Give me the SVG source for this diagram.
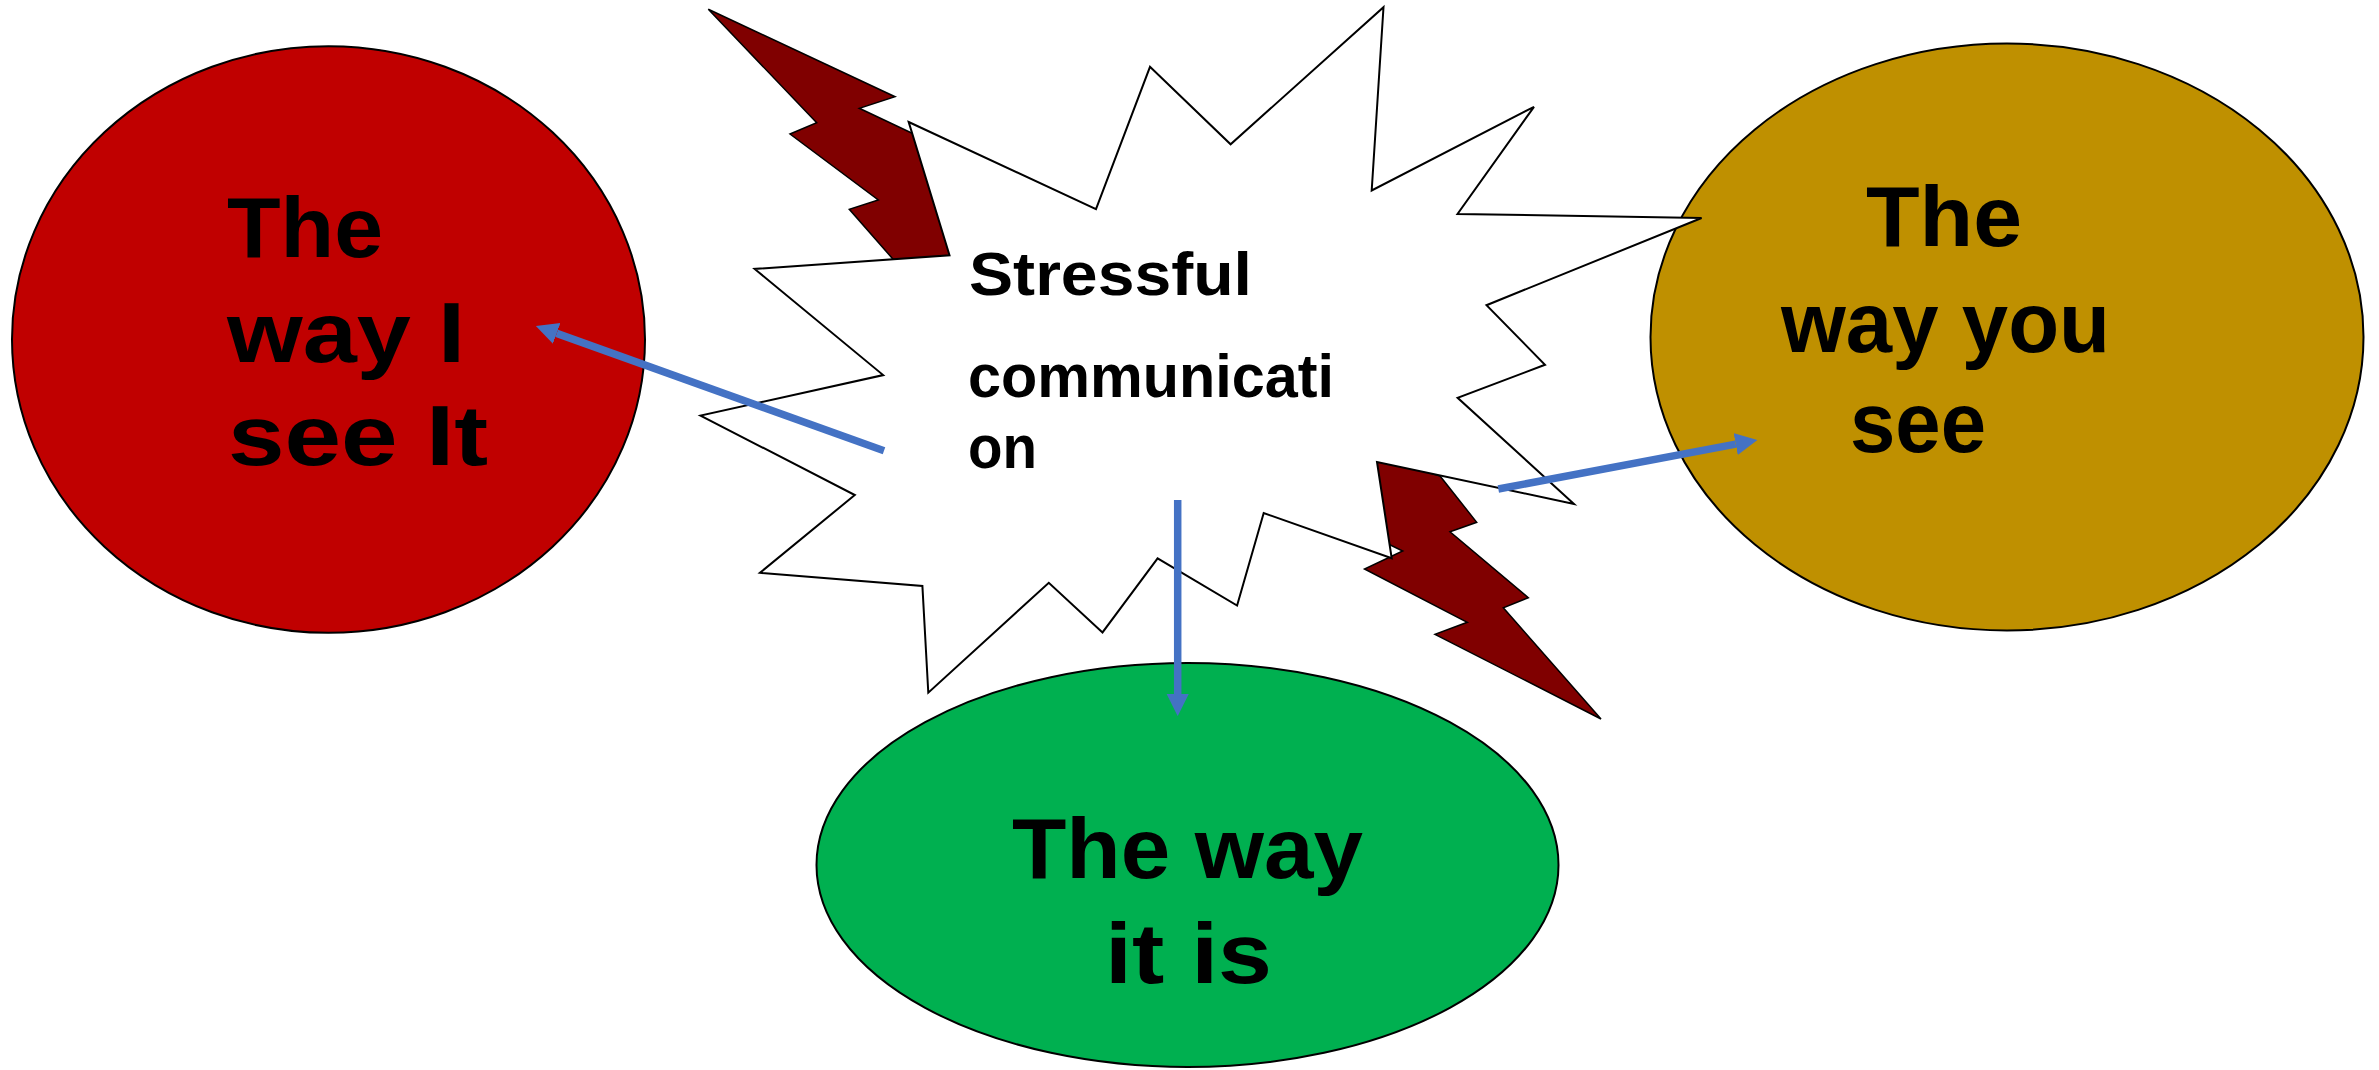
<svg xmlns="http://www.w3.org/2000/svg" width="2379" height="1070" viewBox="0 0 2379 1070">
<style>
.ell{stroke:#000;stroke-width:2}
.bolt{fill:#800000;stroke:#000;stroke-width:1.5;stroke-linejoin:miter}
.burst{fill:#fff;stroke:#000;stroke-width:2;stroke-linejoin:miter}
.t{font-family:"Liberation Sans",Arial,sans-serif;font-weight:bold;fill:#000}
.big{font-size:85px}
.mid{font-size:62px}
.arr{stroke:#4472C4;stroke-width:7.5;fill:none;stroke-linecap:butt}
</style>
<defs>
<marker id="ah" viewBox="0 0 10 10" refX="0" refY="5" markerWidth="2.95" markerHeight="3.1" markerUnits="strokeWidth" orient="auto">
<path d="M0,0 L10,5 L0,10 z" fill="#4472C4"/>
</marker>
</defs>
<rect width="2379" height="1070" fill="#fff"/>
<g id="node-way-i-see-it">
<ellipse class="ell" cx="328.5" cy="339.5" rx="316.5" ry="293.3" fill="#C00000"/>
<text class="t big" x="227" y="257" textLength="156" lengthAdjust="spacingAndGlyphs">The</text>
<text class="t big" x="227" y="362" textLength="238" lengthAdjust="spacingAndGlyphs">way I</text>
<text class="t big" x="228" y="465" textLength="260" lengthAdjust="spacingAndGlyphs">see It</text>
</g>
<g id="node-way-you-see">
<ellipse class="ell" cx="2007" cy="337" rx="356.5" ry="293.5" fill="#BF9000"/>
<text class="t big" x="1866" y="246" textLength="156" lengthAdjust="spacingAndGlyphs">The</text>
<text class="t big" x="1781" y="352" textLength="329" lengthAdjust="spacingAndGlyphs">way you</text>
<text class="t big" x="1850" y="452" textLength="136" lengthAdjust="spacingAndGlyphs">see</text>
</g>
<g id="node-way-it-is">
<ellipse class="ell" cx="1187.5" cy="865" rx="371" ry="202" fill="#00B050"/>
<text class="t big" x="1012" y="878" textLength="351" lengthAdjust="spacingAndGlyphs">The way</text>
<text class="t big" x="1105" y="983" textLength="167" lengthAdjust="spacingAndGlyphs">it is</text>
</g>
<g id="node-stressful-communication">
<polygon class="bolt" points="708.3,9.3 895,96.7 859.3,108.3 935,144 965,270 893.3,259.5 849.3,209.3 878.3,200 790,134 816.7,122.7"/>
<polygon class="bolt" points="1372,455 1440,476 1476.7,522.3 1450,531.7 1528.3,597.7 1503.3,607.7 1601,719 1435,634.3 1467.3,622.3 1364.5,569 1402.7,551 1380,540"/>
<polygon class="burst" points="908.7,122 1096,209.2 1150,66.8 1230.6,144.3 1383.5,7.2 1371.7,190.5 1534,106.8 1457.5,214 1701.6,218 1486.5,305.2 1545,364.8 1457.6,397.8 1574,504 1377,462 1391.7,558.3 1263.7,513 1237.1,605.5 1157.6,558.3 1102.5,632.4 1048.8,582.8 928.3,692.7 922.4,585.9 760,572.8 854.8,495 700.5,415.6 883.2,375.1 754.6,268.9 949.5,255.3"/>
<text class="t mid" x="969" y="295" textLength="283" lengthAdjust="spacingAndGlyphs">Stressful</text>
<text class="t mid" x="968" y="396.5" textLength="366" lengthAdjust="spacingAndGlyphs">communicati</text>
<text class="t mid" x="968" y="467.5" textLength="69" lengthAdjust="spacingAndGlyphs">on</text>
</g>
<g id="connectors">
<path class="arr" d="M884,450.7 L556.7,333.4" marker-end="url(#ah)"/>
<path class="arr" d="M1498.3,489 L1735.7,444.1" marker-end="url(#ah)"/>
<path class="arr" d="M1177.7,500 L1177.7,694" marker-end="url(#ah)"/>
</g>
</svg>
